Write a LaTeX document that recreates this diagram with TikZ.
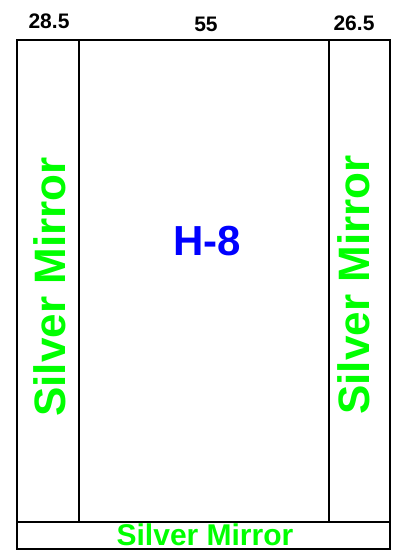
\documentclass[tikz,border=0pt]{standalone}
\usepackage{fontspec}
\setmainfont{Liberation Sans}
\definecolor{mirrorgreen}{HTML}{00FF00}
\definecolor{labelblue}{HTML}{0000FF}
\tikzset{
  frame/.style={draw=black, line width=1.5pt},
  dimlabel/.style={font=\fontsize{21}{21}\selectfont\bfseries, text=black, inner sep=0pt},
  mirrortext/.style={font=\fontsize{44}{44}\selectfont\bfseries, text=mirrorgreen, inner sep=0pt},
  bottomtext/.style={font=\fontsize{30}{30}\selectfont\bfseries, text=mirrorgreen, inner sep=0pt},
  titletext/.style={font=\fontsize{42}{42}\selectfont\bfseries, text=labelblue, inner sep=0pt}
}
\begin{document}
\begin{tikzpicture}[x=1pt,y=-1pt]
\useasboundingbox (0,0) rectangle (398,551);
% frame
\draw[frame] (17,40) rectangle (390,549);
\draw[frame] (17,522) -- (390,522);
\draw[frame] (79,40) -- (79,522);
\draw[frame] (329,40) -- (329,522);
% labels
\node[dimlabel] (a) at (49,21) {28.5};
\node[dimlabel] (b) at (206,24.5) {55};
\node[dimlabel] (c) at (354,23) {26.5};
\node[titletext] (h) at (207,241) {H-8};
\node[mirrortext, rotate=90] (ml) at (50,287) {Silver Mirror};
\node[mirrortext, rotate=90] (mr) at (354,285) {Silver Mirror};
\node[bottomtext] (mb) at (205,535) {Silver Mirror};
\end{tikzpicture}
\end{document}
